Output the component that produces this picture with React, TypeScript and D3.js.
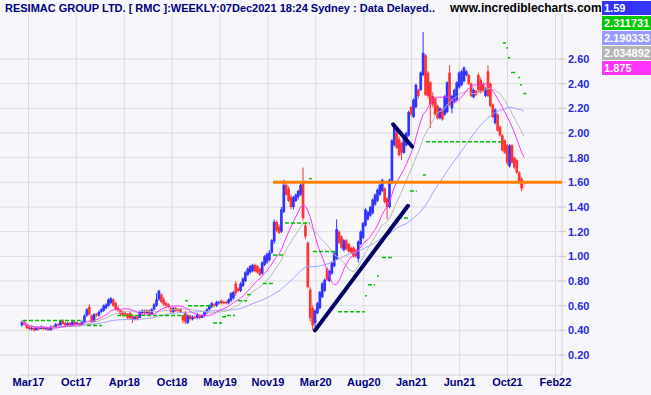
import React from 'react';
import * as d3 from 'd3';

type Bar = [number, number, number, number]; // open, high, low, close

// Weekly bars, in bar order
const bars2017: Bar[] = [
  [.44,.48,.43,.47],[.47,.48,.44,.45],[.45,.46,.41,.42],[.43,.44,.40,.41],[.41,.43,.40,.42],
  [.42,.43,.39,.40],[.40,.43,.40,.42],[.42,.43,.40,.41],[.41,.44,.41,.43],[.43,.43,.40,.41],
  [.41,.43,.40,.42],[.42,.42,.40,.40],[.40,.44,.40,.43],[.43,.44,.41,.42],[.42,.46,.42,.45],
  [.45,.46,.43,.44],[.44,.48,.44,.48],[.48,.49,.45,.45],[.46,.47,.43,.44],[.44,.47,.44,.46],
  [.46,.47,.43,.44],[.44,.48,.44,.47],[.47,.48,.44,.45],[.45,.47,.44,.46],[.46,.46,.43,.44],
  [.44,.48,.44,.47],[.47,.53,.46,.52],[.52,.58,.51,.57],[.59,.61,.52,.53],[.52,.53,.46,.47],
  [.47,.54,.47,.53],[.53,.54,.51,.52],[.52,.56,.51,.55],[.55,.58,.54,.57],[.56,.61,.55,.60],
];
const bars2018: Bar[] = [
  [.58,.62,.57,.61],[.60,.66,.59,.65],[.62,.67,.61,.66],[.65,.66,.59,.60],[.62,.63,.56,.57],
  [.58,.60,.55,.56],[.56,.57,.52,.53],[.55,.56,.51,.52],[.54,.55,.52,.53],[.53,.54,.49,.50],
  [.54,.55,.49,.50],[.52,.53,.46,.49],[.49,.52,.48,.51],[.51,.52,.48,.49],[.50,.56,.50,.55],
  [.54,.57,.53,.56],[.56,.57,.53,.54],[.54,.57,.53,.56],[.56,.57,.52,.53],[.53,.58,.53,.57],
  [.57,.62,.56,.61],[.60,.70,.59,.65],[.65,.73,.64,.72],[.69,.70,.62,.63],[.65,.67,.60,.61],
  [.62,.63,.59,.60],[.61,.62,.58,.59],[.58,.59,.54,.55],[.55,.59,.54,.58],[.58,.59,.55,.56],
  [.57,.58,.55,.56],[.57,.58,.54,.55],[.52,.53,.46,.48],[.54,.56,.45,.47],[.46,.53,.45,.52],
  [.52,.53,.48,.49],[.49,.52,.48,.51],[.51,.52,.49,.50],[.50,.54,.49,.53],[.52,.53,.49,.50],
];
const bars2019: Bar[] = [
  [.50,.53,.50,.52],[.52,.56,.51,.55],[.54,.58,.53,.57],[.57,.61,.56,.60],[.59,.63,.58,.62],
  [.61,.62,.59,.60],[.60,.64,.59,.63],[.62,.64,.61,.63],[.64,.65,.61,.62],[.63,.64,.61,.62],
  [.63,.64,.61,.62],[.62,.66,.61,.65],[.64,.71,.63,.70],[.66,.72,.65,.71],[.78,.80,.68,.70],
  [.74,.75,.71,.72],[.72,.79,.71,.78],[.76,.83,.75,.82],[.80,.88,.79,.87],[.85,.91,.84,.90],
  [.87,.93,.86,.92],[.88,.94,.87,.93],[.93,.94,.87,.88],[.92,.93,.86,.87],[.90,.91,.84,.85],
  [.86,.96,.85,.95],[.93,1.01,.92,1.00],[.95,1.03,.94,1.02],[.97,1.05,.96,1.03],[1.03,1.14,1.02,1.13],
  [1.12,1.30,1.10,1.28],[1.28,1.29,1.20,1.21],[1.24,1.26,1.18,1.19],[1.20,1.40,1.19,1.38],[1.36,1.62,1.35,1.58],
  [1.58,1.60,1.49,1.50],[1.55,1.57,1.44,1.45],[1.48,1.50,1.38,1.40],[1.40,1.49,1.38,1.48],[1.45,1.51,1.44,1.50],
];
const bars2020: Bar[] = [
  [1.48,1.54,1.46,1.53],[1.50,1.59,1.49,1.58],[1.60,1.72,1.29,1.31],[1.25,1.27,1.14,1.16],[1.11,1.12,.74,.75],
  [.73,.75,.47,.50],[.58,.60,.40,.44],[.46,.57,.42,.56],[.54,.63,.53,.62],[.58,.72,.57,.71],
  [.67,.79,.66,.78],[.72,.82,.71,.81],[.90,.91,.80,.81],[.80,.89,.79,.88],[.86,.96,.85,.95],
  [.92,1.04,.91,1.03],[.98,1.30,.97,1.22],[1.20,1.21,1.10,1.11],[1.16,1.17,1.06,1.07],[1.05,1.14,1.04,1.13],
  [1.13,1.14,1.05,1.06],[1.10,1.11,1.03,1.04],[1.07,1.08,1.02,1.03],[1.07,1.08,.99,1.00],[1.05,1.06,.99,1.00],
  [.98,1.13,.95,1.12],[1.10,1.21,1.09,1.20],[1.15,1.28,1.14,1.27],[1.25,1.39,1.24,1.38],[1.30,1.37,1.29,1.36],
  [1.33,1.41,1.32,1.40],[1.35,1.47,1.34,1.46],[1.42,1.51,1.41,1.50],[1.45,1.55,1.44,1.54],[1.50,1.59,1.49,1.58],
  [1.53,1.63,1.52,1.62],[1.55,1.56,1.43,1.44],[1.47,1.48,1.30,1.40],[1.40,1.63,1.39,1.62],[1.60,1.95,1.59,1.94],
  [1.90,2.07,1.89,2.05],[2.00,2.03,1.87,1.88],[1.95,1.97,1.81,1.82],[1.92,1.93,1.78,1.84],[1.84,1.97,1.83,1.96],
  [1.90,2.01,1.89,2.00],
];
const bars2021: Bar[] = [
  [1.98,2.18,1.97,2.17],[2.21,2.22,2.14,2.15],[2.13,2.28,2.12,2.27],[2.21,2.40,2.20,2.39],[2.35,2.36,2.28,2.30],
  [2.35,2.50,2.34,2.49],[2.47,2.82,2.46,2.65],[2.63,2.64,2.30,2.31],[2.49,2.50,2.28,2.30],[2.41,2.42,2.04,2.23],
  [2.30,2.33,2.21,2.23],[2.28,2.29,2.14,2.15],[2.22,2.23,2.11,2.12],[2.12,2.21,2.11,2.20],[2.19,2.20,2.10,2.11],
  [2.15,2.31,2.14,2.30],[2.17,2.42,2.16,2.41],[2.49,2.55,2.22,2.23],[2.20,2.31,2.16,2.30],[2.25,2.36,2.24,2.35],
  [2.27,2.42,2.26,2.41],[2.37,2.50,2.36,2.49],[2.39,2.51,2.38,2.50],[2.42,2.54,2.41,2.53],[2.47,2.51,2.46,2.50],
  [2.47,2.48,2.39,2.40],[2.40,2.41,2.29,2.30],[2.29,2.36,2.28,2.35],[2.34,2.35,2.30,2.31],[2.47,2.49,2.33,2.35],
  [2.43,2.45,2.32,2.33],[2.40,2.41,2.33,2.34],[2.30,2.37,2.29,2.36],[2.50,2.55,2.29,2.30],[2.40,2.41,2.21,2.22],
  [2.23,2.24,2.12,2.13],[2.08,2.20,2.07,2.19],[2.15,2.16,2.01,2.02],[2.05,2.06,1.97,1.98],[1.98,1.99,1.85,1.86],
  [1.94,1.95,1.83,1.84],[1.90,1.91,1.74,1.76],[1.73,1.91,1.72,1.90],[1.90,1.91,1.75,1.76],[1.80,1.81,1.71,1.72],
  [1.78,1.79,1.67,1.68],[1.68,1.69,1.59,1.60],[1.63,1.64,1.53,1.55],[1.58,1.62,1.54,1.59],
];

// Volatility-stop dashes (bar index from, to, price)
const stopFrom = [0.4, 27.1, 39.6, 67.9, 69.1, 79.5, 83.3, 85.3, 89.9, 93.7, 100.3, 104.5, 109.5, 119.5, 121.1, 131.6, 142.8, 144, 147.8, 149.9, 156.5, 161.5, 165.3, 166.9, 168.2, 200.2, 201.5, 202.3, 203.6, 206.5, 207.3, 208.7];
const stopTo =   [25.4, 33.3, 67.9, 69.1, 79.5, 83.3, 85.3, 88.7, 93.7, 95.3, 104.5, 108.7, 119.9, 120.7, 131.6, 142.8, 143.6, 147, 148.6, 154.5, 160.7, 164.4, 166.5, 168.2, 200.2, 201.5, 202.3, 203.2, 206.1, 207.3, 208.2, 210];
const stopValue = [0.48, 0.44, 0.52, 0.64, 0.60, 0.46, 0.51, 0.52, 0.64, 0.69, 0.78, 1.01, 1.27, 1.63, 1.04, 0.55, 0.68, 0.77, 0.84, 0.99, 1.31, 1.53, 1.60, 1.66, 1.93, 2.73, 2.69, 2.61, 2.49, 2.45, 2.39, 2.32];

// Drawn trend lines [index, price] pairs
const trendUp = [[122, 0.40], [160.7, 1.41]];
const trendDown = [[154.5, 2.07], [162.4, 1.89]];
const supportLevel = 1.60;
const supportFrom = 104.5;

const yTicks = [0.2, 0.4, 0.6, 0.8, 1.0, 1.2, 1.4, 1.6, 1.8, 2.0, 2.2, 2.4, 2.6];
const xTickLabels = ['Mar17', 'Oct17', 'Apr18', 'Oct18', 'May19', 'Nov19', 'Mar20', 'Aug20', 'Jan21', 'Jun21', 'Oct21', 'Feb22'];
const xTickIndex = [2.7, 22.6, 42.6, 62.5, 82.5, 102.4, 122.3, 142.3, 162.2, 182.2, 202.1, 222.1];

const legendValues = ['1.59', '2.311731', '2.190333', '2.034892', '1.875'];
const legendColors = ['#3333ff', '#00c800', '#9999ff', '#b4b4b4', '#ff33ff'];

const title = 'RESIMAC GROUP LTD. [ RMC ]:WEEKLY:07Dec2021 18:24 Sydney : Data Delayed..';
const site = 'www.incrediblecharts.com';

const FONT = '"Liberation Sans", Arial, sans-serif';

function sma(vals: number[], n: number): number[] {
  return vals.map((_, i) => d3.mean(vals.slice(Math.max(0, i - n + 1), i + 1)) as number);
}

export default function App() {
  const bars = [...bars2017, ...bars2018, ...bars2019, ...bars2020, ...bars2021];
  const N = bars.length;
  const closes = bars.map(b => b[3]);
  const x = d3.scaleLinear().domain([0, N - 1]).range([22, 524]);
  const y = d3.scaleLinear().domain([0.2, 2.6]).range([355, 59]);
  const plotRight = 562;
  const plotTop = 14;
  const axisY = 375;

  const line = d3.line<number>().x((_, i) => x(i)).y(d => y(d));
  const maFast = sma(closes, 13);
  const maMid = sma(closes, 20);
  const maSlow = sma(closes, 50);

  const bw = 2.7;

  return (
    <svg width={651} height={395} style={{ position: 'absolute', left: 0, top: 0, background: '#f7f7fb' }}>
      <rect x={0} y={0} width={651} height={395} fill="#f7f7fb" />
      {/* grid */}
      {yTicks.map(t => (
        <line key={'h' + t} x1={0} x2={plotRight} y1={y(t)} y2={y(t)} stroke="#dcdce0" strokeWidth={1} />
      ))}
      {xTickIndex.map((t, k) => (
        <line key={'v' + k} x1={x(t)} x2={x(t)} y1={plotTop} y2={axisY + 3} stroke="#dcdce0" strokeWidth={1} />
      ))}
      <line x1={20} x2={plotRight} y1={axisY} y2={axisY} stroke="#d0d0d4" />
      <line x1={plotRight} x2={plotRight} y1={plotTop} y2={axisY} stroke="#d0d0d4" />
      {yTicks.map(t => (
        <line key={'yt' + t} x1={plotRight - 3} x2={plotRight + 4} y1={y(t)} y2={y(t)} stroke="#c8c8cc" />
      ))}

      {/* bars */}
      {bars.map((b, i) => {
        const [o, h, l, c] = b;
        const last = i === N - 1;
        const col = last ? '#ffb0b0' : c >= o ? '#3333ff' : '#ff3333';
        const top = y(Math.max(o, c));
        const hgt = Math.max(1, Math.abs(y(o) - y(c)));
        return (
          <g key={'b' + i}>
            <line x1={x(i)} x2={x(i)} y1={y(h)} y2={y(l)} stroke={col} strokeWidth={1} />
            {last ? (
              <line x1={x(i) - 2} x2={x(i) + 2} y1={y(c)} y2={y(c)} stroke={col} strokeWidth={1} />
            ) : (
              <rect x={x(i) - bw / 2} y={top} width={bw} height={hgt} fill={col} />
            )}
          </g>
        );
      })}

      {/* moving averages */}
      <path d={line(maSlow) || ''} fill="none" stroke="#a0a0ff" strokeWidth={1} />
      <path d={line(maMid) || ''} fill="none" stroke="#b8b8b8" strokeWidth={1} />
      <path d={line(maFast) || ''} fill="none" stroke="#ff33ff" strokeWidth={1} />

      {/* volatility stops */}
      {stopValue.map((v, k) => (
        <line key={'s' + k} x1={x(stopFrom[k])} x2={x(stopTo[k])} y1={y(v)} y2={y(v)}
          stroke="#00c000" strokeWidth={1.5} strokeDasharray="4,2" />
      ))}

      {/* support line */}
      <line x1={x(supportFrom)} x2={plotRight} y1={y(supportLevel)} y2={y(supportLevel)} stroke="#ff8000" strokeWidth={3} />

      {/* trend lines */}
      {[trendUp, trendDown].map((tl, k) => (
        <line key={'t' + k} x1={x(tl[0][0])} y1={y(tl[0][1])} x2={x(tl[1][0])} y2={y(tl[1][1])}
          stroke="#000066" strokeWidth={4} strokeLinecap="round" />
      ))}

      {/* y axis labels */}
      {yTicks.map(t => (
        <text key={'yl' + t} x={568} y={y(t)} dy="0.35em" fontFamily={FONT} fontWeight="bold" fontSize={11} fill="#2a2ae0">
          {t.toFixed(2)}
        </text>
      ))}
      {/* x axis labels */}
      {xTickIndex.map((t, k) => (
        <text key={'xl' + k} x={x(t)} y={386} textAnchor="middle" fontFamily={FONT} fontWeight="bold" fontSize={11} fill="#00007f">
          {xTickLabels[k]}
        </text>
      ))}

      {/* titles */}
      <text x={5} y={12} fontFamily={FONT} fontWeight="bold" fontSize={11} fill="#00007f">{title}</text>
      <text x={450} y={12} fontFamily={FONT} fontWeight="bold" fontSize={12} fill="#000000">{site}</text>

      {/* legend */}
      {legendValues.map((v, k) => (
        <g key={'lg' + k}>
          <rect x={602} y={1 + k * 15} width={49} height={14} fill={legendColors[k]} />
          <text x={604} y={12 + k * 15} fontFamily={FONT} fontWeight="bold" fontSize={11} fill="#ffffff">{v}</text>
        </g>
      ))}
    </svg>
  );
}
